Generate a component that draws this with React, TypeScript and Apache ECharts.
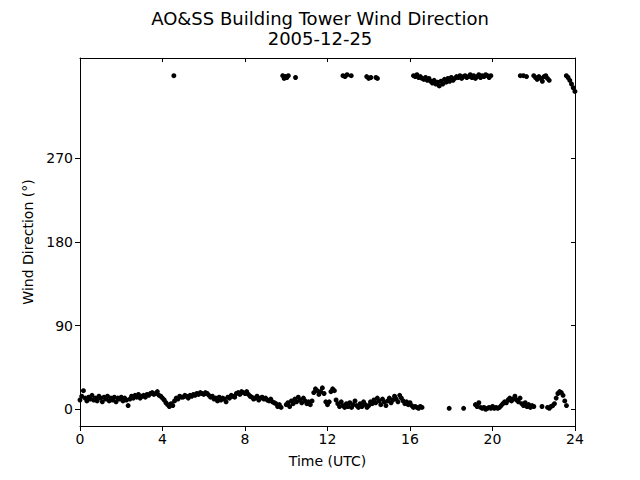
import React, { useEffect, useRef } from "react";
import * as echarts from "echarts";

// ---- Data (wind direction, degrees; 5-minute samples unless noted) ----
const STEP = 1 / 12; // 5 minutes in hours

// Low band (near 0°)
const low0Start = 0.0;
const low0Values = [
  10, 14, 20, 12, 9, 13, 11, 15, 10, 12, 9, 14,
  12, 8, 13, 11, 14, 9, 12, 10, 13, 8, 12, 11,
  13, 9, 12, 10, 4, 11, 14, 12, 15, 13, 16, 12,
  14, 15, 13, 16, 15, 17, 18, 16, 17, 19, 15, 14,
  12, 10, 7, 5, 3, 6, 4, 9, 12, 11, 14, 13,
  13, 15, 14, 12, 15, 14, 16, 15, 17, 16, 18, 17,
  16, 18, 17, 15, 13, 14, 11, 12, 9, 13, 10, 12,
  11, 8, 13, 12, 15, 14, 13, 17, 18, 16, 19, 18,
  17, 19, 16, 14, 13, 11, 12, 14, 10, 12, 13, 11,
  12, 10, 9, 11, 8, 7, 6, 3, 5, 2,
];
const low1Start = 10.0;
const low1Values = [
  5, 7, 3, 9, 6, 11, 8, 13, 10, 7, 12, 9,
  6, 8, 5, 9, 18, 22, 20, 16, 19, 23, 17, 8,
  5, 8, 19, 22, 20, 10, 6, 3, 8, 4, 2, 6,
  3, 7, 2, 5, 9, 4, 2, 6, 3, 8, 5, 2,
  4, 8, 6, 10, 7, 12, 9, 5, 11, 8, 4, 9,
  12, 7, 10, 14, 11, 8, 15, 12, 9, 6, 8, 5,
  7, 4, 2, 3, 2, 1, 3, 2,
];
const lowIsolatedTimes = [17.9, 18.6, 22.4];
const lowIsolatedValues = [1, 1, 3];
const low2Start = 19.17;
const low2Values = [
  5, 3, 7, 2, 1, 2, 0, 1, 2, 1, 3, 1, 2, 1, 2,
  4, 6, 8, 7, 10, 12, 9, 11, 14, 10, 8, 12,
  6, 4, 7, 3, 5, 2, 4, 3,
];
const low3Start = 22.67;
const low3Values = [2, 1, 3, 4, 6, 12, 17, 19, 18, 15, 9, 4];

// High band (near 360°)
const highIsolatedTimes = [
  4.55, 9.83, 9.9, 9.97, 10.03, 10.1, 10.45,
  12.75, 12.85, 12.95, 13.15, 13.9, 14.0, 14.1, 14.35, 14.42,
  21.35, 21.5, 21.65,
];
const highIsolatedValues = [
  359, 359, 356, 358, 357, 359, 357,
  359, 358, 360, 359, 358, 356, 357, 357, 356,
  359, 359, 358,
];
const high0Start = 16.17;
const high0Values = [
  359, 358, 360, 357, 358,
  356, 355, 357, 354, 356, 353,
  351, 354, 350, 352, 348, 353, 350,
  355, 352, 356, 353, 357, 354, 356, 358,
  357, 359, 356, 358, 359, 357,
  358, 360, 357, 359, 356, 358, 360, 357, 359, 358, 360, 359, 357, 359,
];
const high1Start = 22.0;
const high1Values = [359, 357, 355, 358, 356, 353, 358, 359, 356, 354];
const high2Start = 23.58;
const high2Values = [359, 357, 354, 350, 346, 342];

const xTicks = [0, 4, 8, 12, 16, 20, 24];
const yTicks = [0, 90, 180, 270];

function seg(start: number, values: number[]): [number, number][] {
  return values.map((v, i) => [start + i * STEP, v]);
}
function pairs(times: number[], values: number[]): [number, number][] {
  return times.map((t, i) => [t, values[i]]);
}

const allPoints: [number, number][] = [
  ...seg(low0Start, low0Values),
  ...seg(low1Start, low1Values),
  ...pairs(lowIsolatedTimes, lowIsolatedValues),
  ...seg(low2Start, low2Values),
  ...seg(low3Start, low3Values),
  ...pairs(highIsolatedTimes, highIsolatedValues),
  ...seg(high0Start, high0Values),
  ...seg(high1Start, high1Values),
  ...seg(high2Start, high2Values),
];

const FONT = "DejaVu Sans";

export default function App() {
  const ref = useRef<HTMLDivElement>(null);
  useEffect(() => {
    if (!ref.current) return;
    const chart = echarts.init(ref.current, undefined, { renderer: "svg" });
    const axisLine = { show: true, onZero: false, lineStyle: { color: "#000", width: 1 } };
    const titleStyle = {
      fontFamily: FONT,
      fontSize: 18,
      fontWeight: "normal",
      color: "#000",
    };
    chart.setOption({
      animation: false,
      backgroundColor: "#fff",
      title: [
        { text: "AO&SS Building Tower Wind Direction", left: "center", top: 4, textStyle: titleStyle },
        { text: "2005-12-25", left: "center", top: 24, textStyle: titleStyle },
      ],
      grid: { left: 80, right: 65, top: 58, bottom: 54, containLabel: false },
      xAxis: [
        {
          type: "value",
          position: "bottom",
          min: xTicks[0],
          max: xTicks[xTicks.length - 1],
          interval: 4,
          axisLine,
          axisTick: { show: true, inside: false, length: 5, lineStyle: { color: "#000" } },
          axisLabel: { color: "#000", fontFamily: FONT, fontSize: 14, margin: 6 },
          splitLine: { show: false },
          name: "Time (UTC)",
          nameLocation: "middle",
          nameGap: 28,
          nameTextStyle: { color: "#000", fontFamily: FONT, fontSize: 14 },
        },
        {
          type: "value",
          position: "top",
          min: xTicks[0],
          max: xTicks[xTicks.length - 1],
          interval: 4,
          axisLine,
          axisTick: { show: true, inside: true, length: 4, lineStyle: { color: "#000" } },
          axisLabel: { show: false },
          splitLine: { show: false },
        },
      ],
      yAxis: [
        {
          type: "value",
          position: "left",
          min: -18,
          max: 378,
          axisLine,
          axisTick: {
            show: true,
            inside: false,
            length: 5,
            customValues: yTicks,
            lineStyle: { color: "#000" },
          },
          axisLabel: {
            color: "#000",
            fontFamily: FONT,
            fontSize: 14,
            margin: 7,
            customValues: yTicks,
          },
          splitLine: { show: false },
          name: "Wind Direction (°)",
          nameLocation: "middle",
          nameRotate: 90,
          nameGap: 42,
          nameTextStyle: { color: "#000", fontFamily: FONT, fontSize: 14 },
        },
        {
          type: "value",
          position: "right",
          min: -18,
          max: 378,
          axisLine,
          axisTick: {
            show: true,
            inside: true,
            length: 4,
            customValues: yTicks,
            lineStyle: { color: "#000" },
          },
          axisLabel: { show: false, customValues: yTicks },
          splitLine: { show: false },
        },
      ],
      series: [
        {
          type: "scatter",
          xAxisIndex: 0,
          yAxisIndex: 0,
          data: allPoints,
          symbol: "circle",
          symbolSize: 5,
          itemStyle: { color: "#000", opacity: 1 },
          silent: true,
        },
      ],
    });
    return () => chart.dispose();
  }, []);
  return (
    <div
      ref={ref}
      style={{ position: "absolute", left: 0, top: 0, width: 640, height: 480 }}
    />
  );
}
